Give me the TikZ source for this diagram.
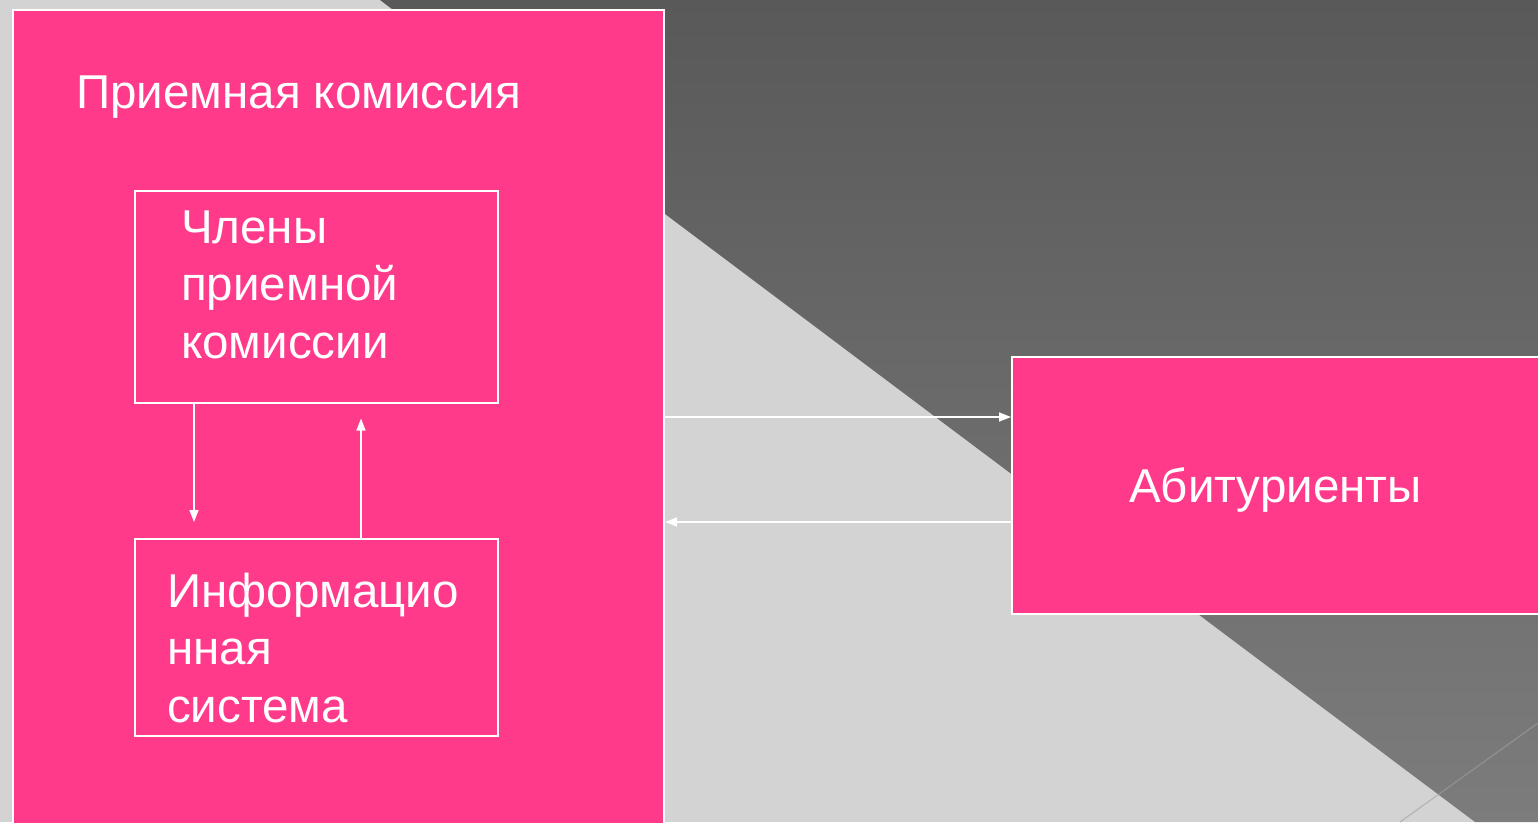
\documentclass[tikz,border=0pt]{standalone}
\usepackage{fontspec}
\setmainfont{Liberation Sans}
\usetikzlibrary{arrows.meta}
\definecolor{pinkbox}{HTML}{FF3A8A}
\definecolor{lightbg}{HTML}{D3D3D3}
\definecolor{darktop}{HTML}{595959}
\definecolor{darkbot}{HTML}{7C7C7C}
\definecolor{streak}{HTML}{A0A0A0}
\tikzset{
  panel/.style={draw=white, line width=2pt, fill=pinkbox, anchor=north west, inner sep=0pt},
  subbox/.style={draw=white, line width=1.5pt, fill=pinkbox, anchor=north west, inner sep=0pt},
  label/.style={text=white, anchor=base west, inner sep=0pt, align=left,
    font=\fontsize{47.5}{57.5}\selectfont},
  arr/.style={draw=white, line width=1.5pt, -{Triangle[length=12pt,width=9pt]}}
}
\begin{document}
\begin{tikzpicture}[x=1pt,y=-1pt]
\useasboundingbox (0,0) rectangle (1538,822);
\fill[lightbg] (0,0) rectangle (1538,822);
\shade[top color=darktop, bottom color=darkbot] (380,0) -- (1560,0) -- (1560,822) -- (1475,822) -- cycle;
\draw[streak, opacity=0.6, line width=1.2pt] (1400,822) -- (1538,723);

\node[panel, minimum width=651pt, minimum height=830pt] (kom) at (12,9) {};
\node[panel, minimum width=545pt, minimum height=257pt] (abit) at (1011,356) {};
\node[subbox, minimum width=363pt, minimum height=212pt] (members) at (134,190) {};
\node[subbox, minimum width=363pt, minimum height=197pt] (info) at (134,538) {};

\node[label] (komtext) at (76,108) {Приемная комиссия};
\node[label] (memtext) at (181,358) {Члены\\приемной\\комиссии};
\node[label] (infotext) at (167,722) {Информацио\\нная\\система};
\node[label] (abittext) at (1129,502) {Абитуриенты};

\draw[arr] ([xshift=60pt]members.south west) -- ([xshift=60pt,yshift=16pt]info.north west);
\draw[arr] ([xshift=227pt]info.north west) -- ([xshift=227pt,yshift=-15pt]members.south west);
\draw[arr] ([yshift=-408pt]kom.north east) -- ([yshift=-61pt]abit.north west);
\draw[arr] ([yshift=-166pt]abit.north west) -- ([yshift=-513pt]kom.north east);
\end{tikzpicture}
\end{document}
